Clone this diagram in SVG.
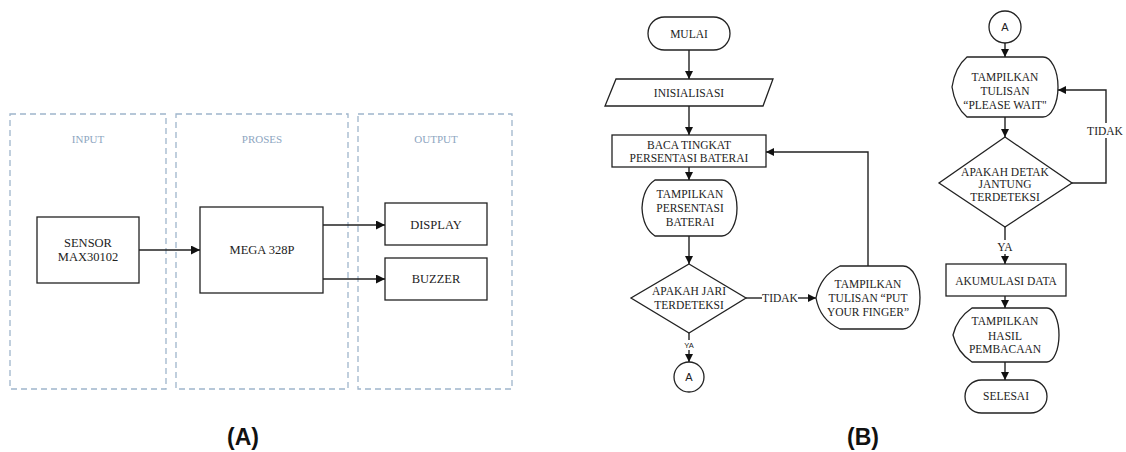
<svg xmlns="http://www.w3.org/2000/svg" width="1126" height="452" viewBox="0 0 1126 452">
<defs>
<style>
.lane{fill:none;stroke:#9fb5cb;stroke-width:1.3;stroke-dasharray:6 4}
.lt{font-family:"Liberation Serif",serif;font-size:11px;fill:#8ea6bf;text-anchor:middle}
.bx{fill:#fff;stroke:#222;stroke-width:1.3}
.ta{font-family:"Liberation Serif",serif;font-size:12.5px;fill:#222;text-anchor:middle}
.tb{font-family:"Liberation Serif",serif;font-size:11.5px;fill:#222;text-anchor:middle}
.sa{font-family:"Liberation Sans",Arial,sans-serif;fill:#222;text-anchor:middle}
.cn{fill:none;stroke:#222;stroke-width:1.4}
.lab{font-family:"Liberation Sans",Arial,sans-serif;font-size:23px;font-weight:bold;fill:#111;text-anchor:middle}
</style>
<marker id="ah" viewBox="0 0 10 10" refX="10" refY="5" markerWidth="10" markerHeight="9" orient="auto" markerUnits="userSpaceOnUse"><path d="M0,0 L10,5 L0,10 z" fill="#111"/></marker>
<marker id="as" viewBox="0 0 10 10" refX="10" refY="5" markerWidth="9" markerHeight="8" orient="auto" markerUnits="userSpaceOnUse"><path d="M0,0 L10,5 L0,10 z" fill="#111"/></marker>
</defs>
<rect width="1126" height="452" fill="#fff"/>

<!-- Part A -->
<g id="lane-input"><rect class="lane" x="10" y="114" width="156" height="275"/><text class="lt" x="88" y="143">INPUT</text></g>
<g id="lane-proses"><rect class="lane" x="176" y="114" width="172" height="275"/><text class="lt" x="262" y="143">PROSES</text></g>
<g id="lane-output"><rect class="lane" x="358" y="114" width="154" height="275"/><text class="lt" x="436" y="143">OUTPUT</text></g>

<g id="sensor"><rect class="bx" x="37" y="217" width="102" height="66"/><text class="ta" x="88" y="247">SENSOR</text><text class="ta" x="88" y="261">MAX30102</text></g>
<g id="mega"><rect class="bx" x="200" y="207" width="123" height="86"/><text class="ta" x="262" y="254">MEGA 328P</text></g>
<g id="display"><rect class="bx" x="385" y="203" width="102" height="42"/><text class="ta" x="436" y="229">DISPLAY</text></g>
<g id="buzzer"><rect class="bx" x="385" y="258" width="102" height="42"/><text class="ta" x="436" y="283">BUZZER</text></g>

<g id="connectors-a">
<path class="cn" d="M139,250 H200" marker-end="url(#ah)"/>
<path class="cn" d="M323,225 H385" marker-end="url(#ah)"/>
<path class="cn" d="M323,279 H385" marker-end="url(#ah)"/>
</g>

<!-- Part B left -->
<g id="mulai"><rect class="bx" x="648" y="17" width="82" height="33" rx="16.5"/><text class="tb" x="689" y="38">MULAI</text></g>
<g id="inisialisasi"><path class="bx" d="M616,79 H773 L763,106 H605 Z"/><text class="tb" x="689" y="97">INISIALISASI</text></g>
<g id="baca"><rect class="bx" x="612" y="135" width="154" height="32"/><text class="tb" x="689" y="149">BACA TINGKAT</text><text class="tb" x="689" y="162">PERSENTASI BATERAI</text></g>
<g id="tampil-baterai"><path class="bx" d="M655,180 H722 A15,28 0 0 1 722,236 H655 Q643,228 642,208 Q643,188 655,180 Z"/><text class="tb" x="690" y="198">TAMPILKAN</text><text class="tb" x="690" y="212">PERSENTASI</text><text class="tb" x="690" y="226">BATERAI</text></g>
<g id="jari"><path class="bx" d="M689,264 L746,298 L689,333 L631,298 Z"/><text class="tb" x="689" y="295">APAKAH JARI</text><text class="tb" x="689" y="309">TERDETEKSI</text></g>
<g id="finger"><path class="bx" d="M840,266 H903 A17,31.5 0 0 1 903,329 H840 Q820,320 816,298 Q820,276 840,266 Z"/><text class="tb" x="868" y="288">TAMPILKAN</text><text class="tb" x="868" y="302">TULISAN  “PUT</text><text class="tb" x="868" y="316">YOUR FINGER”</text></g>
<g id="conn-a1"><circle class="bx" cx="689" cy="377" r="15"/><text class="sa" x="689" y="381" font-size="11">A</text></g>

<!-- Part B right -->
<g id="conn-a2"><circle class="bx" cx="1005" cy="27" r="16"/><text class="sa" x="1005" y="31" font-size="11">A</text></g>
<g id="please-wait"><path class="bx" d="M967,57 H1043 A15,30 0 0 1 1043,117 H967 Q955,107 952,87 Q955,67 967,57 Z"/><text class="tb" x="1005" y="81">TAMPILKAN</text><text class="tb" x="1005" y="95">TULISAN</text><text class="tb" x="1005" y="109">“PLEASE WAIT"</text></g>
<g id="detak"><path class="bx" d="M1005,137 L1072,183 L1005,227 L939,183 Z"/><text class="tb" x="1005" y="176">APAKAH DETAK</text><text class="tb" x="1005" y="188">JANTUNG</text><text class="tb" x="1005" y="201">TERDETEKSI</text></g>
<g id="akumulasi"><rect class="bx" x="946" y="264" width="120" height="32"/><text class="tb" x="1006" y="285">AKUMULASI DATA</text></g>
<g id="hasil"><path class="bx" d="M972,308 H1047 A12,27 0 0 1 1047,362 H972 Q957,352 953,335 Q957,318 972,308 Z"/><text class="tb" x="1005" y="325">TAMPILKAN</text><text class="tb" x="1005" y="340">HASIL</text><text class="tb" x="1005" y="353">PEMBACAAN</text></g>
<g id="selesai"><rect class="bx" x="965" y="380" width="82" height="33" rx="16.5"/><text class="tb" x="1006" y="400">SELESAI</text></g>

<g id="connectors-b">
<path class="cn" d="M689,50 V79" marker-end="url(#as)"/>
<path class="cn" d="M689,106 V135" marker-end="url(#as)"/>
<path class="cn" d="M689,167 V180" marker-end="url(#as)"/>
<path class="cn" d="M689,236 V264" marker-end="url(#as)"/>
<path class="cn" d="M746,298 H762"/>
<text class="tb" x="780" y="302">TIDAK</text>
<path class="cn" d="M798,298 H816" marker-end="url(#as)"/>
<path class="cn" d="M868,266 V152 H766" marker-end="url(#as)"/>
<path class="cn" d="M689,333 V340"/>
<text class="sa" x="689" y="348" font-size="7.5">YA</text>
<path class="cn" d="M689,350 V362" marker-end="url(#as)"/>
<path class="cn" d="M1005,43 V57" marker-end="url(#as)"/>
<path class="cn" d="M1005,117 V137" marker-end="url(#as)"/>
<path class="cn" d="M1072,183 H1106 V90 H1058" marker-end="url(#as)"/>
<rect x="1087" y="123" width="37" height="15" fill="#fff"/>
<text class="tb" x="1105" y="135">TIDAK</text>
<path class="cn" d="M1005,227 V240"/>
<text class="tb" x="1005" y="251">YA</text>
<path class="cn" d="M1005,254 V264" marker-end="url(#as)"/>
<path class="cn" d="M1005,296 V308" marker-end="url(#as)"/>
<path class="cn" d="M1005,362 V380" marker-end="url(#as)"/>
</g>

<g id="labels"><text class="lab" x="243" y="445">(A)</text><text class="lab" x="863" y="445">(B)</text></g>
</svg>
